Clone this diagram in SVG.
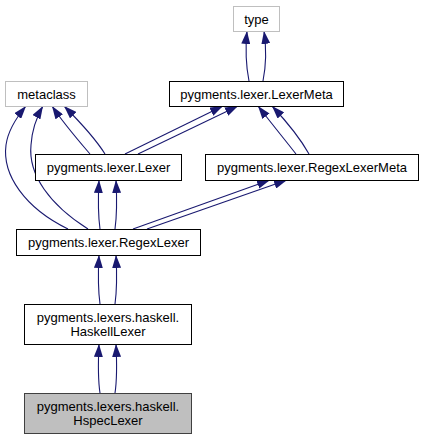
<svg xmlns="http://www.w3.org/2000/svg" width="424" height="440" viewBox="0 0 424 440">
<defs>
<style>
.node rect{fill:#fff;stroke:#000;stroke-width:1}
.node.ext rect{stroke:#bfbfbf}
.node.cur rect{fill:#bfbfbf;stroke:#404040}
.node text{font-family:"Liberation Sans",Arial,sans-serif;font-size:13px;text-anchor:middle;fill:#000}
.edge path{fill:none;stroke:#191970;stroke-width:1.1;marker-end:url(#arr)}
</style>
<marker id="arr" viewBox="0 0 13 9" refX="13" refY="4.5" markerWidth="13" markerHeight="9" markerUnits="userSpaceOnUse" orient="auto">
<path d="M0,0 L13,4.5 L0,9 z" fill="#191970"/>
</marker>
</defs>
<rect width="424" height="440" fill="#fff"/>
<g id="edges" class="edge">
<path d="M249,81 C246,66 245,52 247,31"/>
<path d="M263,81 C266,66 267,52 264,31"/>
<path d="M68,229 C25,208 2,175 6,145 C8,130 16,118 26,106"/>
<path d="M88,229 C50,205 28,175 31,145 C32,130 36,118 43,106"/>
<path d="M90,154 C78,140 64,124 52,106"/>
<path d="M105,154 C95,138 80,122 64,106"/>
<path d="M125,154 L223,106"/>
<path d="M138,154 L238,106"/>
<path d="M296,154 C285,140 272,124 258,106"/>
<path d="M309,154 C300,138 287,122 272,106"/>
<path d="M100,229 C98,215 98,200 99,180"/>
<path d="M115,229 C117,215 117,200 116,180"/>
<path d="M133,229 L270,180"/>
<path d="M147,229 L287,180"/>
<path d="M100,304 C98,290 98,275 99,255"/>
<path d="M115,304 C117,290 117,275 116,255"/>
<path d="M100,393 C98,380 98,365 99,344"/>
<path d="M115,393 C117,380 117,365 116,344"/>
</g>
<g id="type" class="node ext"><rect x="233.5" y="6.5" width="46" height="25"/><text x="256.5" y="23.5">type</text></g>
<g id="metaclass" class="node ext"><rect x="5.5" y="81.5" width="82" height="25"/><text x="46.5" y="98.5">metaclass</text></g>
<g id="LexerMeta" class="node"><rect x="169.5" y="81.5" width="174" height="25"/><text x="256.5" y="98.5">pygments.lexer.LexerMeta</text></g>
<g id="Lexer" class="node"><rect x="35.5" y="154.5" width="146" height="26"/><text x="108.5" y="172">pygments.lexer.Lexer</text></g>
<g id="RegexLexerMeta" class="node"><rect x="205.5" y="154.5" width="213" height="26"/><text x="312" y="172">pygments.lexer.RegexLexerMeta</text></g>
<g id="RegexLexer" class="node"><rect x="16.5" y="229.5" width="184" height="26"/><text x="108.5" y="247">pygments.lexer.RegexLexer</text></g>
<g id="HaskellLexer" class="node"><rect x="24.5" y="304.5" width="167" height="40"/><text x="108" y="322">pygments.lexers.haskell.</text><text x="108" y="336">HaskellLexer</text></g>
<g id="HspecLexer" class="node cur"><rect x="24.5" y="393.5" width="167" height="40"/><text x="108" y="411">pygments.lexers.haskell.</text><text x="108" y="425">HspecLexer</text></g>
</svg>
